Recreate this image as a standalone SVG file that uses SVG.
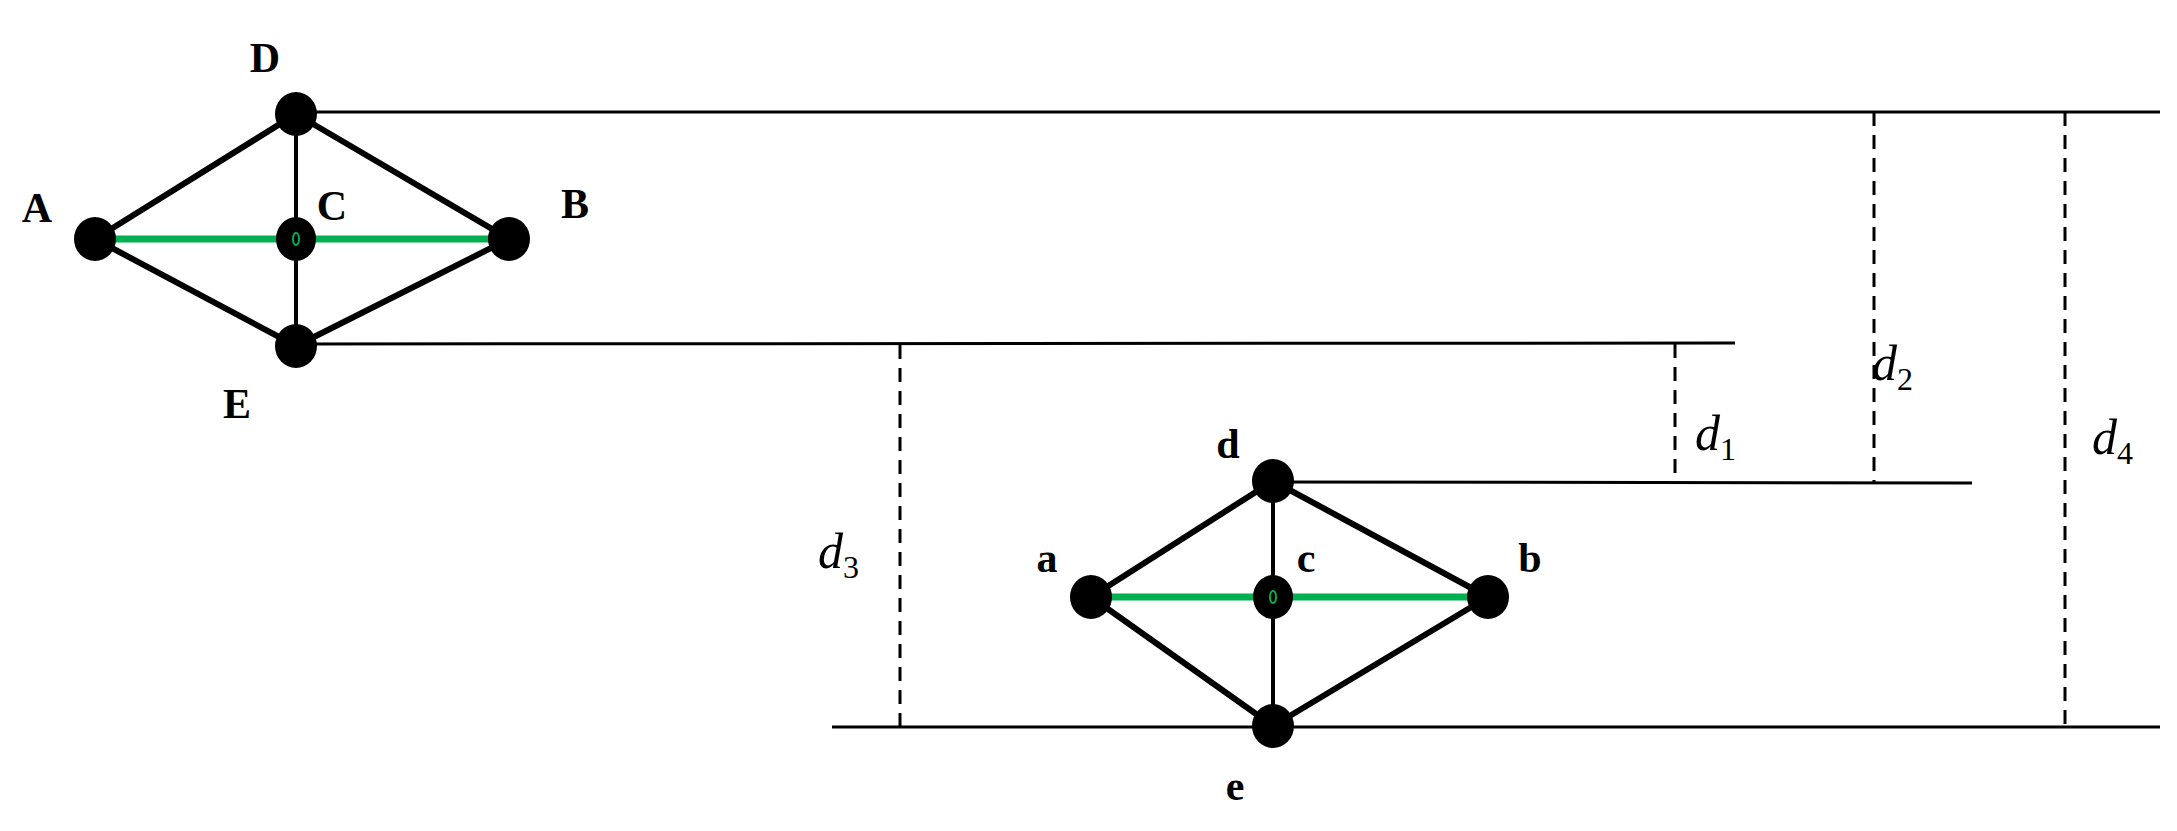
<svg xmlns="http://www.w3.org/2000/svg" width="2177" height="831" viewBox="0 0 2177 831">
<style>
.e{stroke:#000;stroke-width:6}
.v{stroke:#000;stroke-width:4}
.g{stroke:#00B050;stroke-width:7}
.l{stroke:#000;stroke-width:3}
.dash{stroke:#000;stroke-width:3;stroke-dasharray:14 9}
.lab{font-family:"Liberation Serif",serif;font-weight:bold;font-size:42px;text-anchor:middle}
.dl{font-family:"Liberation Serif",serif;font-style:italic;font-size:50px}
.sub{font-style:normal;font-size:32px}
</style>
<rect width="2177" height="831" fill="#fff"/>
<g id="connectors">
<line class="l" x1="296" y1="112" x2="2160" y2="112"/>
<line class="l" x1="296" y1="344" x2="1735" y2="343"/>
<line class="l" x1="1273" y1="482" x2="1972" y2="483"/>
<line class="l" x1="832" y1="727" x2="2160" y2="727"/>
<line class="dash" x1="900" y1="345" x2="900" y2="727"/>
<line class="dash" x1="1675" y1="344" x2="1675" y2="482"/>
<line class="dash" x1="1874" y1="112" x2="1874" y2="482"/>
<line class="dash" x1="2065" y1="112" x2="2065" y2="727"/>
<line class="e" x1="95" y1="239" x2="296" y2="114"/>
<line class="e" x1="296" y1="114" x2="509" y2="239"/>
<line class="e" x1="95" y1="239" x2="296" y2="346"/>
<line class="e" x1="296" y1="346" x2="509" y2="239"/>
<line class="v" x1="296" y1="114" x2="296" y2="346"/>
<line class="g" x1="95" y1="239" x2="509" y2="239"/>
<line class="e" x1="1091" y1="597" x2="1273" y2="481"/>
<line class="e" x1="1273" y1="481" x2="1488" y2="597"/>
<line class="e" x1="1091" y1="597" x2="1273" y2="726"/>
<line class="e" x1="1273" y1="726" x2="1488" y2="597"/>
<line class="v" x1="1273" y1="481" x2="1273" y2="726"/>
<line class="g" x1="1091" y1="597" x2="1488" y2="597"/>
</g>
<g id="D"><ellipse cx="296" cy="114" rx="21" ry="22"/><text class="lab" x="265" y="72">D</text></g>
<g id="A"><ellipse cx="95" cy="239" rx="21" ry="22"/><text class="lab" x="37" y="222">A</text></g>
<g id="C"><ellipse cx="296" cy="239" rx="20" ry="22"/><ellipse cx="296" cy="239" rx="3" ry="6" fill="none" stroke="#00B050" stroke-width="2"/><text class="lab" x="332" y="220">C</text></g>
<g id="B"><ellipse cx="509" cy="239" rx="21" ry="22"/><text class="lab" x="575" y="218">B</text></g>
<g id="E"><ellipse cx="296" cy="346" rx="21" ry="22"/><text class="lab" x="237" y="418">E</text></g>
<g id="d"><ellipse cx="1273" cy="481" rx="21" ry="22"/><text class="lab" x="1228" y="458">d</text></g>
<g id="a"><ellipse cx="1091" cy="597" rx="21" ry="22"/><text class="lab" x="1047" y="572">a</text></g>
<g id="c"><ellipse cx="1273" cy="597" rx="20" ry="22"/><ellipse cx="1273" cy="597" rx="3" ry="6" fill="none" stroke="#00B050" stroke-width="2"/><text class="lab" x="1306" y="572">c</text></g>
<g id="b"><ellipse cx="1488" cy="597" rx="21" ry="22"/><text class="lab" x="1530" y="572">b</text></g>
<g id="e"><ellipse cx="1273" cy="726" rx="21" ry="22"/><text class="lab" x="1235" y="800">e</text></g>
<g id="labels">
<text class="dl" x="1695" y="450">d<tspan class="sub" dy="10">1</tspan></text>
<text class="dl" x="1872" y="380">d<tspan class="sub" dy="10">2</tspan></text>
<text class="dl" x="818" y="568">d<tspan class="sub" dy="10">3</tspan></text>
<text class="dl" x="2092" y="454">d<tspan class="sub" dy="10">4</tspan></text>
</g>
</svg>
